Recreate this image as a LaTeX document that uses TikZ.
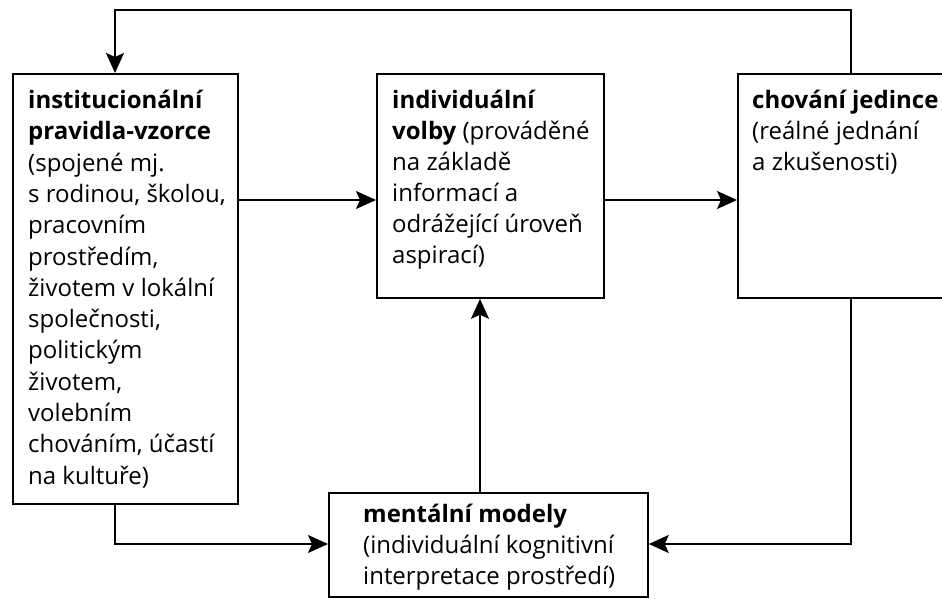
\documentclass[tikz,border=0pt]{standalone}
\usepackage{fontspec}
\setmainfont{Open Sans}
\usetikzlibrary{arrows.meta,calc}
\newcommand{\topline}{\rule{0pt}{18pt}}
\begin{document}
\begin{tikzpicture}[x=1pt,y=-1pt,
  box/.style={draw, line width=1.8pt, rectangle, inner sep=0pt, anchor=north west},
  txt/.style={anchor=north west, inner sep=0pt, align=left, font=\fontsize{24}{31}\selectfont},
  arr/.style={line width=1.9pt, -{Stealth[length=20pt,width=18pt,inset=4pt]}}]
\clip (0,0) rectangle (942,599);
\fill[white] (0,0) rectangle (942,599);
% boxes
\node[box, minimum width=225pt, minimum height=430pt] (inst) at (12,73) {};
\node[box, minimum width=227pt, minimum height=224pt] (volby) at (376,73) {};
\node[box, minimum width=240pt, minimum height=224pt] (chov) at (737,73) {};
\node[box, minimum width=319pt, minimum height=104pt] (ment) at (328,492) {};
% texts
\node[txt, font=\fontsize{24}{31.3}\selectfont] (t1) at (28,90) {\topline\textbf{institucionální}\\\textbf{pravidla-vzorce}\\(spojené mj.\\s rodinou, školou,\\pracovním\\prostředím,\\životem v lokální\\společnosti,\\politickým\\životem,\\volebním\\chováním, účastí\\na kultuře)};
\node[txt] (t2) at (392,90) {\topline\textbf{individuální}\\\textbf{volby} (prováděné\\na základě\\informací a\\odrážející úroveň\\aspirací)};
\node[txt] (t3) at (752,90) {\topline\textbf{chování jedince}\\(reálné jednání\\a zkušenosti)};
\node[txt] (t4) at (363,504) {\topline\textbf{mentální modely}\\(individuální kognitivní\\interpretace prostředí)};
% connectors
\coordinate (ya) at (0,200);
\coordinate (xl) at (115,0);
\coordinate (xr) at (851,0);
\coordinate (xm) at (480,0);
\coordinate (top) at (0,10);
\coordinate (low) at (0,544);
\draw[arr] (inst.east |- ya) -- (volby.west |- ya);
\draw[arr] (volby.east |- ya) -- (chov.west |- ya);
\draw[arr] (ment.north -| xm) -- (volby.south -| xm);
\draw[arr] (inst.south -| xl) -- (xl |- low) -- (ment.west |- low);
\draw[arr] (chov.south -| xr) -- (xr |- low) -- (ment.east |- low);
\draw[arr] (chov.north -| xr) -- (xr |- top) -- (xl |- top) -- (inst.north -| xl);
\end{tikzpicture}
\end{document}
